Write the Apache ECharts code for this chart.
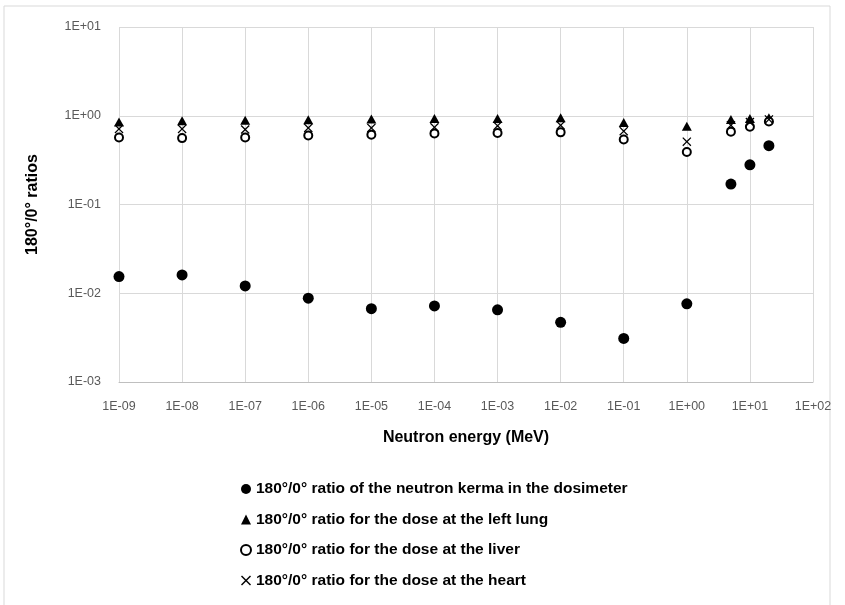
<!DOCTYPE html>
<html lang="en">
<head>
    <meta charset="UTF-8">
    <title>180/0 ratios</title>
    <script src="https://cdn.jsdelivr.net/npm/echarts@6/dist/echarts.min.js"></script>
    <style>
        body { margin: 0; background: #fff; }
    </style>
</head>
<body>
    <div id="main" style="width: 845px;height:605px;"></div>
    <script>
        // neutron energies (MeV)
        var energy = [1e-9, 1e-8, 1e-7, 1e-6, 1e-5, 1e-4, 1e-3, 1e-2, 1e-1, 1, 5, 10, 20];
        // 180/0 ratios
        var kerma = [0.0154, 0.0161, 0.0121, 0.0088, 0.0067, 0.0072, 0.0065, 0.0047, 0.0031, 0.0076, 0.17, 0.28, 0.46];
        var lung  = [0.85, 0.88, 0.89, 0.90, 0.92, 0.93, 0.93, 0.95, 0.84, 0.76, 0.91, 0.93, 0.95];
        var liver = [0.57, 0.56, 0.57, 0.60, 0.61, 0.63, 0.64, 0.65, 0.54, 0.39, 0.66, 0.75, 0.86];
        var heart = [0.71, 0.71, 0.70, 0.73, 0.73, 0.74, 0.77, 0.78, 0.67, 0.51, 0.78, 0.85, 0.91];

        var xTickLabels = ['1E-09', '1E-08', '1E-07', '1E-06', '1E-05', '1E-04', '1E-03', '1E-02', '1E-01', '1E+00', '1E+01', '1E+02'];
        var yTickLabels = ['1E-03', '1E-02', '1E-01', '1E+00', '1E+01'];

        var seriesNames = [
            '180°/0° ratio of the neutron kerma in the dosimeter',
            '180°/0° ratio for the dose at the left lung',
            '180°/0° ratio for the dose at the liver',
            '180°/0° ratio for the dose at the heart'
        ];

        function pairs(ys) {
            var out = [];
            for (var i = 0; i < energy.length; i++) {
                out.push([energy[i], ys[i]]);
            }
            return out;
        }

        var crossPath = 'path://M1,0L5,4L9,0L10,1L6,5L10,9L9,10L5,6L1,10L0,9L4,5L0,1Z';
        var tickFont = { color: '#595959', fontSize: 12.5, fontFamily: 'Liberation Sans, sans-serif' };
        var titleFont = { color: '#000', fontSize: 16, fontWeight: 'bold', fontFamily: 'Liberation Sans, sans-serif' };

        var myChart = echarts.init(document.getElementById('main'));
        var option = {
            animation: false,
            backgroundColor: '#fff',
            graphic: [{
                type: 'rect',
                shape: { x: 4, y: 6, width: 826, height: 600 },
                style: { fill: 'none', stroke: '#d9d9d9', lineWidth: 1 }
            }],
            grid: { left: 119, right: 32, top: 27, bottom: 223 },
            xAxis: {
                type: 'log',
                logBase: 10,
                min: 1e-9,
                max: 100,
                interval: 1,
                name: 'Neutron energy (MeV)',
                nameLocation: 'middle',
                nameGap: 48,
                nameTextStyle: titleFont,
                axisLine: { lineStyle: { color: '#bfbfbf' } },
                axisTick: { show: false },
                axisLabel: Object.assign({
                    margin: 18,
                    interval: 0,
                    formatter: function (v) { return xTickLabels[Math.round(Math.log10(v)) + 9]; }
                }, tickFont),
                splitLine: { show: true, interval: 0, lineStyle: { color: '#d9d9d9' } }
            },
            yAxis: {
                type: 'log',
                logBase: 10,
                min: 0.001,
                max: 10,
                interval: 1,
                name: '180°/0° ratios',
                nameLocation: 'middle',
                nameGap: 78,
                nameTextStyle: titleFont,
                axisLine: { show: false },
                axisTick: { show: false },
                axisLabel: Object.assign({
                    margin: 18,
                    formatter: function (v) { return yTickLabels[Math.round(Math.log10(v)) + 3]; }
                }, tickFont),
                splitLine: { show: true, lineStyle: { color: '#d9d9d9' } }
            },
            legend: {
                orient: 'vertical',
                left: 235,
                top: 476,
                itemWidth: 10,
                itemHeight: 10,
                itemGap: 14.5,
                textStyle: Object.assign({}, titleFont, { fontSize: 15.5 }),
                data: seriesNames
            },
            series: [{
                name: seriesNames[0],
                type: 'scatter',
                symbol: 'circle',
                symbolSize: 11,
                itemStyle: { color: '#000', opacity: 1 },
                data: pairs(kerma)
            }, {
                name: seriesNames[1],
                type: 'scatter',
                symbol: 'triangle',
                symbolSize: [10, 9],
                itemStyle: { color: '#000', opacity: 1 },
                data: pairs(lung)
            }, {
                name: seriesNames[2],
                type: 'scatter',
                symbol: 'emptyCircle',
                symbolSize: 8,
                itemStyle: { color: '#000', borderWidth: 2, opacity: 1 },
                data: pairs(liver)
            }, {
                name: seriesNames[3],
                type: 'scatter',
                symbol: crossPath,
                symbolSize: 9,
                itemStyle: { color: '#000', opacity: 1 },
                data: pairs(heart)
            }]
        };
        myChart.setOption(option);
    </script>
</body>
</html>
